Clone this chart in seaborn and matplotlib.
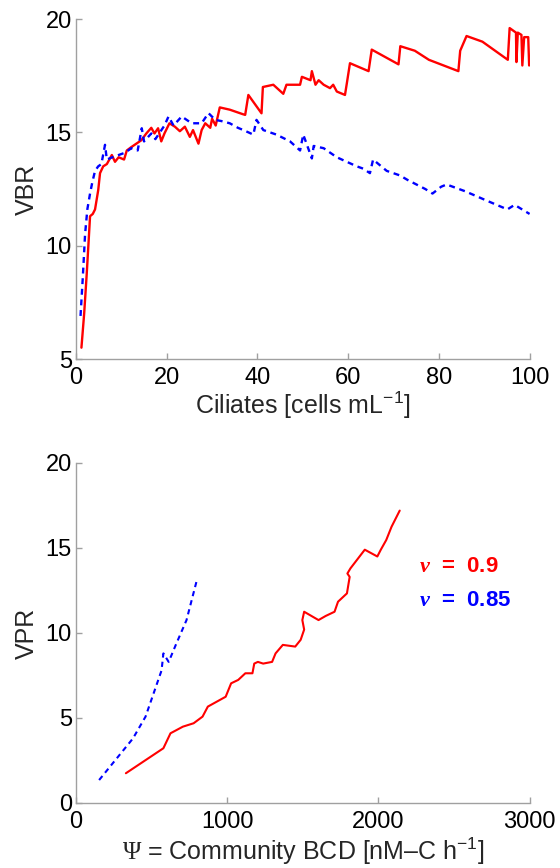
import pandas as pd
import seaborn as sns
import matplotlib.pyplot as plt

# top panel: VBR against ciliate abundance
cil_red = [1.2, 1.8, 2.35, 2.8, 3.1, 3.7, 4.2, 4.9, 5.3, 6.0, 6.8, 7.9, 8.6, 9.4, 10.6, 11.2,
           12.2, 13.3, 14.4, 15.5, 16.6, 17.3, 18.1, 18.8, 19.5, 20.6, 21.8, 22.9, 24.0, 25.1,
           25.8, 27.0, 27.7, 28.5, 29.6, 30.0, 30.8, 31.7, 33.9, 36.8, 37.3, 38.0, 40.9, 41.2,
           43.5, 45.7, 46.4, 49.4, 49.8, 51.7, 52.0, 52.8, 53.5, 54.6, 56.0, 56.7, 57.5, 59.3,
           59.7, 60.4, 64.5, 65.2, 71.1, 71.5, 74.7, 77.8, 84.3, 84.7, 86.1, 89.6, 95.2, 95.6,
           97.0, 97.1, 97.4, 98.2, 98.4, 98.8, 99.7, 99.9]
vbr_red = [5.5, 7.0, 8.7, 10.25, 11.3, 11.4, 11.6, 12.45, 13.2, 13.5, 13.6, 14.0, 13.7, 13.9, 13.8,
           14.2, 14.35, 14.5, 14.65, 14.95, 15.2, 14.95, 15.18, 14.6, 14.95, 15.4, 15.25, 15.05,
           15.25, 14.8, 15.1, 14.5, 15.1, 15.4, 15.2, 15.6, 15.3, 16.1, 16.0, 15.8, 15.77, 16.65,
           15.84, 17.0, 17.1, 16.7, 17.1, 17.1, 17.45, 17.3, 17.7, 17.1, 17.3, 17.1, 16.95, 17.1,
           16.8, 16.65, 17.15, 18.05, 17.7, 18.65, 18.0, 18.8, 18.6, 18.2, 17.7, 18.6, 19.25, 19.0,
           18.2, 19.6, 19.4, 18.1, 19.4, 19.3, 17.95, 19.2, 19.2, 17.95]
cil_blue = [1.0, 1.5, 2.0, 2.5, 3.1, 3.6, 4.2, 4.9, 5.6, 6.4, 6.8, 8.0, 9.4, 10.8, 12.2, 13.6,
            14.5, 15.0, 16.6, 17.5, 19.5, 20.4, 21.5, 23.3, 25.5, 27.7, 29.2, 30.7, 32.0, 33.9,
            35.7, 36.9, 39.1, 39.8, 41.3, 44.2, 47.2, 49.4, 50.1, 52.0, 52.4, 54.6, 57.5, 59.7,
            61.9, 63.3, 64.8, 65.5, 68.5, 71.4, 73.1, 77.0, 78.6, 80.5, 81.7, 85.8, 90.4, 95.1,
            96.7, 100.0]
vbr_blue = [6.9, 8.6, 10.5, 11.6, 12.3, 12.8, 13.3, 13.5, 13.6, 14.45, 13.8, 13.9, 14.0, 14.1,
            14.3, 14.2, 15.18, 14.6, 14.95, 14.7, 15.3, 15.7, 15.3, 15.7, 15.4, 15.4, 15.85, 15.55,
            15.5, 15.4, 15.2, 15.1, 14.9, 15.55, 15.1, 14.9, 14.6, 14.2, 14.9, 13.85, 14.4, 14.3,
            13.9, 13.7, 13.5, 13.4, 13.2, 13.8, 13.3, 13.1, 12.9, 12.5, 12.3, 12.6, 12.7, 12.4,
            12.0, 11.6, 11.8, 11.4]

# bottom panel: VPR against community BCD
bcd_red = [330, 578, 625, 707, 778, 837, 872, 990, 1026, 1073, 1120, 1167, 1179, 1203, 1238,
           1297, 1320, 1368, 1450, 1486, 1509, 1497, 1509, 1604, 1651, 1710, 1733, 1792, 1810,
           1795, 1815, 1910, 1993, 2016, 2052, 2087, 2141]
vpr_red = [1.75, 3.22, 4.1, 4.49, 4.69, 5.08, 5.67, 6.25, 7.04, 7.24, 7.63, 7.63, 8.2, 8.3, 8.2,
           8.3, 8.8, 9.3, 9.2, 9.6, 10.2, 10.76, 11.25, 10.76, 11.0, 11.25, 11.84, 12.33, 13.3,
           13.5, 13.8, 14.9, 14.5, 14.9, 15.47, 16.25, 17.2]
bcd_blue = [153, 377, 460, 566, 578, 613, 660, 731, 802]
vpr_blue = [1.35, 3.8, 5.08, 7.8, 8.8, 8.3, 9.3, 10.76, 13.2]

nu_labels = [r'$\mathsf{\nu}$  =  0.9', r'$\mathsf{\nu}$  =  0.85']

RED = '#ff0000'
BLUE = '#0000ff'
GREY = '#a0a0a0'

sns.set_theme(style='ticks')
plt.rcParams['font.family'] = ['Liberation Sans', 'DejaVu Sans']
plt.rcParams['mathtext.fontset'] = 'custom'
plt.rcParams['mathtext.rm'] = 'Liberation Sans'
plt.rcParams['mathtext.cal'] = 'Liberation Serif'
plt.rcParams['mathtext.sf'] = 'Liberation Serif:italic:bold'

fig = plt.figure(figsize=(5.6, 8.68), dpi=100)
ax1 = fig.add_axes([0.1357, 0.5864, 0.81, 0.3917])
ax2 = fig.add_axes([0.1357, 0.0749, 0.81, 0.3917])

top = pd.DataFrame({'x': cil_red, 'y': vbr_red})
sns.lineplot(data=top, x='x', y='y', ax=ax1, sort=False, estimator=None,
             color=RED, lw=1.7)
top_b = pd.DataFrame({'x': cil_blue, 'y': vbr_blue})
sns.lineplot(data=top_b, x='x', y='y', ax=ax1, sort=False, estimator=None,
             color=BLUE, lw=1.7, dashes=False, linestyle=(0, (2.5, 2)))

bot = pd.DataFrame({'x': bcd_red, 'y': vpr_red})
sns.lineplot(data=bot, x='x', y='y', ax=ax2, sort=False, estimator=None,
             color=RED, lw=1.5)
bot_b = pd.DataFrame({'x': bcd_blue, 'y': vpr_blue})
sns.lineplot(data=bot_b, x='x', y='y', ax=ax2, sort=False, estimator=None,
             color=BLUE, lw=1.5, dashes=False, linestyle=(0, (2.5, 2)))

ax1.set_xlim(0, 100)
ax1.set_ylim(5, 20)
ax1.set_xticks(range(0, 101, 20))
ax1.set_yticks([5, 10, 15, 20])
ax1.set_xlabel(r'Ciliates [cells mL$^{-1}$]', fontsize=18, labelpad=0)
ax1.set_ylabel('VBR', fontsize=18, labelpad=5)

ax2.set_xlim(0, 3000)
ax2.set_ylim(0, 20)
ax2.set_xticks([0, 1000, 2000, 3000])
ax2.set_yticks([0, 5, 10, 15, 20])
ax2.set_xlabel(r'$\mathcal{\Psi}$ = Community BCD [nM–C h$^{-1}$]', fontsize=18, labelpad=2)
ax2.set_ylabel('VPR', fontsize=18, labelpad=5)

ax2.text(2270, 13.9, nu_labels[0], color=RED, fontsize=16, fontweight='bold', va='center')
ax2.text(2270, 11.9, nu_labels[1], color=BLUE, fontsize=16, fontweight='bold', va='center')

for ax in (ax1, ax2):
    sns.despine(ax=ax)
    for s in ('left', 'bottom'):
        ax.spines[s].set_color(GREY)
        ax.spines[s].set_linewidth(1.0)
    ax.tick_params(direction='in', length=4, width=1, color=GREY,
                   labelsize=17, labelcolor='black')
    ax.tick_params(axis='x', pad=6)
    ax.tick_params(axis='y', pad=3)

fig.savefig('out.png', dpi=100)
